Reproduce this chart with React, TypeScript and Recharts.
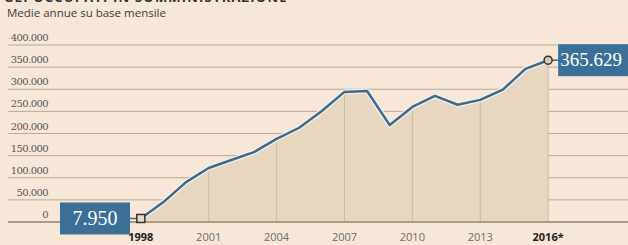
import { ComposedChart, Area, Line, XAxis, YAxis, CartesianGrid, ReferenceLine } from "recharts";

const years = [1998, 1999, 2000, 2001, 2002, 2003, 2004, 2005, 2006, 2007, 2008, 2009, 2010, 2011, 2012, 2013, 2014, 2015, 2016];
const occupati = [7950, 45000, 90000, 122000, 140000, 158000, 188000, 213000, 251000, 294000, 296000, 219000, 260000, 285000, 265000, 276000, 299000, 346000, 365629];
const xTicks = [1998, 2001, 2004, 2007, 2010, 2013, 2016];
const xTickLabels = ["1998", "2001", "2004", "2007", "2010", "2013", "2016*"];
const yTicks = [0, 50000, 100000, 150000, 200000, 250000, 300000, 350000, 400000];

const data = years.map((y, i) => ({ year: y, value: occupati[i] }));

const BG = "#f6e7d8";
const BLUE = "#3b6f97";
const LINE = "#416985";

const fmtNum = (v: number) => String(v).replace(/\B(?=(\d{3})+(?!\d))/g, ".");

const YTick = (props: any) => {
  const { y, payload } = props;
  return (
    <text x={48} y={y - 4} textAnchor="end" fontFamily="DejaVu Serif" fontSize={10} letterSpacing={-0.6} fill="#555">
      {fmtNum(payload.value)}
    </text>
  );
};

const XTick = (props: any) => {
  const { x, y, payload } = props;
  const i = xTicks.indexOf(payload.value);
  const bold = i === 0 || i === xTicks.length - 1;
  return (
    <text x={x} y={y + 11} textAnchor="middle" fontFamily="Open Sans" fontSize={11}
      fontWeight={bold ? 700 : 400} fill={bold ? "#222" : "#6a6a6a"}>
      {xTickLabels[i]}
    </text>
  );
};

const EndDot = (props: any) => {
  const { cx, cy, index } = props;
  if (index === 0) {
    return (
      <g key="first">
        <line x1={130} y1={cy} x2={cx} y2={cy} stroke={BLUE} strokeWidth={1.5} />
        <rect x={60} y={cy - 16} width={70} height={32} fill={BLUE} />
        <text x={95} y={cy + 7} textAnchor="middle" fontFamily="Liberation Serif" fontSize={20} fill="#fff">
          {fmtNum(occupati[0])}
        </text>
        <rect x={cx - 4} y={cy - 4} width={8} height={8} fill="#e9d9c3" stroke="#333" strokeWidth={1.5} />
      </g>
    );
  }
  if (index === occupati.length - 1) {
    return (
      <g key="last">
        <line x1={cx} y1={cy} x2={cx + 12} y2={cy} stroke={BLUE} strokeWidth={1.5} />
        <rect x={cx + 10} y={cy - 16} width={75} height={32} fill={BLUE} />
        <text x={cx + 43} y={cy + 6} textAnchor="middle" fontFamily="Liberation Serif" fontSize={19} fill="#fff">
          {fmtNum(occupati[occupati.length - 1])}
        </text>
        <circle cx={cx} cy={cy} r={4} fill="#d9c8b0" stroke="#333" strokeWidth={1.5} />
      </g>
    );
  }
  return <g key={"d" + index} />;
};

export default function App() {
  return (
    <div style={{ position: "fixed", top: 0, left: 0, width: 628, height: 245, background: BG, overflow: "hidden" }}>
      <div style={{ position: "absolute", left: 4, top: -12, fontFamily: "Open Sans", fontWeight: 700, fontSize: 13, color: "#333", letterSpacing: 1.2, whiteSpace: "nowrap" }}>
        GLI OCCUPATI IN SOMMINISTRAZIONE
      </div>
      <div style={{ position: "absolute", left: 7, top: 5, fontFamily: "Open Sans", fontSize: 11.5, color: "#3c3c3c", whiteSpace: "nowrap" }}>
        Medie annue su base mensile
      </div>
      <ComposedChart width={628} height={245} data={data} margin={{ top: 45, right: 0, bottom: 0, left: 7 }}>
        <CartesianGrid vertical={false} stroke="#bba994" strokeWidth={1} />
        <XAxis dataKey="year" type="number" domain={[1992.13, 2019.53]} allowDataOverflow ticks={xTicks}
          axisLine={false} tickLine={false} height={23} interval={0} tick={<XTick />} />
        <YAxis type="number" domain={[0, 400000]} ticks={yTicks} width={1} interval={0} axisLine={false} tickLine={false}
          tick={<YTick />} />
        <Area type="linear" dataKey="value" stroke="none" fill="#e7d6c0" fillOpacity={1} isAnimationActive={false} />
        {xTicks.slice(1).map((t) => (
          <ReferenceLine key={t} segment={[{ x: t, y: 0 }, { x: t, y: occupati[years.indexOf(t)] }]}
            stroke="#cdb9a0" strokeWidth={1} />
        ))}
        <ReferenceLine y={0} stroke="#9c8a76" strokeWidth={1.5} />
        <Line type="linear" dataKey="value" stroke="#eef2f3" strokeWidth={5} strokeLinejoin="round" dot={false} activeDot={false} isAnimationActive={false} />
        <Line type="linear" dataKey="value" stroke={LINE} strokeWidth={2.5} strokeLinejoin="round" dot={<EndDot />} activeDot={false} isAnimationActive={false} />
      </ComposedChart>
    </div>
  );
}
